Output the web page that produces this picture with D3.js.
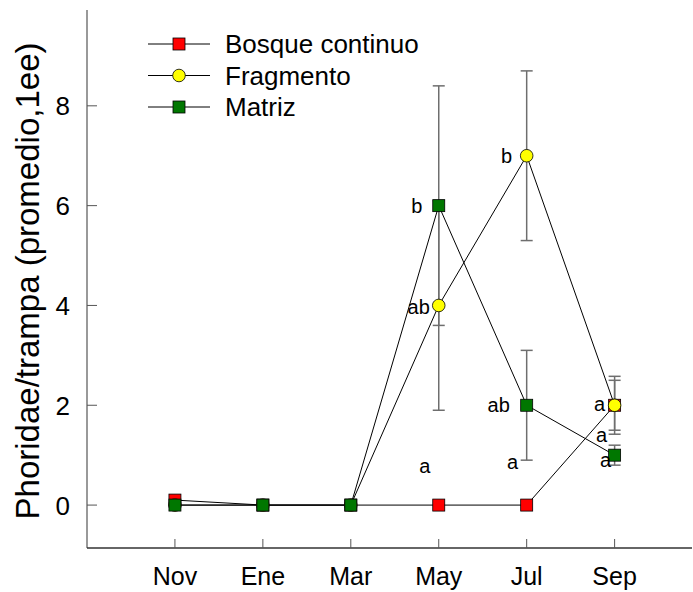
<!DOCTYPE html>
<html><head><meta charset="utf-8">
<script src="https://cdn.jsdelivr.net/npm/d3@7"></script>
<style>body{margin:0;background:#fff}svg{display:block}text{font-family:"Liberation Sans",Arial,sans-serif}</style>
</head><body><svg id="c" width="693" height="592"></svg>
<script>
const months = ["Nov","Ene","Mar","May","Jul","Sep"];
const yTicks = [0,2,4,6,8];
const bosque = [0.1,0,0,0,0,2];
const bosqueErr = [0,0,0,0,0,0.58];
const fragmento = [0,0,0,4,7,2];
const fragmentoErr = [0,0,0,2.1,1.7,0.5];
const matriz = [0,0,0,6,2,1];
const matrizErr = [0,0,0,2.4,1.1,0.2];
const letters = [
  {m:"May", v:6, t:"b", dx:-22, dy:0},
  {m:"May", v:4, t:"ab", dx:-20, dy:2},
  {m:"Jul", v:7, t:"b", dx:-20, dy:0},
  {m:"Jul", v:2, t:"ab", dx:-28, dy:0},
  {m:"May", v:0, t:"a", dx:-14, dy:-39},
  {m:"Jul", v:0, t:"a", dx:-14, dy:-43},
  {m:"Sep", v:2, t:"a", dx:-15, dy:-1},
  {m:"Sep", v:2, t:"a", dx:-13, dy:30},
  {m:"Sep", v:1, t:"a", dx:-9, dy:5}
];
const series = [
  {name:"Bosque continuo", vals:bosque, err:bosqueErr, shape:"square", fill:"#ff0000"},
  {name:"Fragmento", vals:fragmento, err:fragmentoErr, shape:"circle", fill:"#ffff00"},
  {name:"Matriz", vals:matriz, err:matrizErr, shape:"square", fill:"#007700"}
];

const svg = d3.select("#c");
const pL=87, pR=692, pT=10, pB=548;
const x = d3.scaleLinear().domain([-1,5.88]).range([pL,pR]);
const y = d3.scaleLinear().domain([-0.86,9.92]).range([pB,pT]);
const xi = m => x(months.indexOf(m));

// axes
const axisCol="#555";
svg.append("line").attr("x1",pL).attr("x2",pL).attr("y1",pT).attr("y2",pB).attr("stroke","#777").attr("stroke-width",1.5);
svg.append("line").attr("x1",pL).attr("x2",pR).attr("y1",pB).attr("y2",pB).attr("stroke","#333").attr("stroke-width",1.5);
yTicks.forEach(t=>{
  svg.append("line").attr("x1",pL).attr("x2",pL+10).attr("y1",y(t)).attr("y2",y(t)).attr("stroke",axisCol).attr("stroke-width",1);
  svg.append("text").attr("x",70).attr("y",y(t)+9.5).attr("text-anchor","end").attr("font-size",26).text(t);
});
months.forEach((m,i)=>{
  svg.append("line").attr("x1",x(i)).attr("x2",x(i)).attr("y1",pB).attr("y2",pB-9).attr("stroke",axisCol).attr("stroke-width",1);
  svg.append("text").attr("x",x(i)).attr("y",585).attr("text-anchor","middle").attr("font-size",25).text(m);
});
svg.append("text").attr("transform","translate(39,281) rotate(-90)").attr("text-anchor","middle").attr("font-size",33).text("Phoridae/trampa (promedio,1ee)");

// error bars
series.forEach(s=>{
  s.vals.forEach((v,i)=>{
    const e=s.err[i]; if(!e) return;
    const g=svg.append("g").attr("stroke","#6e6e6e").attr("stroke-width",1.5);
    g.append("line").attr("x1",x(i)).attr("x2",x(i)).attr("y1",y(v-e)).attr("y2",y(v+e));
    [v-e,v+e].forEach(c=>g.append("line").attr("x1",x(i)-6).attr("x2",x(i)+6).attr("y1",y(c)).attr("y2",y(c)));
  });
});

// lines and markers
const line = d3.line().x((d,i)=>x(i)).y(d=>y(d));
function marker(g,s,cx,cy){
  if(s.shape==="circle") g.append("circle").attr("cx",cx).attr("cy",cy).attr("r",6.3).attr("fill",s.fill).attr("stroke","#000").attr("stroke-width",0.8);
  else g.append("rect").attr("x",cx-6).attr("y",cy-6).attr("width",12).attr("height",12).attr("fill",s.fill).attr("stroke","#000").attr("stroke-width",0.8);
}
series.forEach(s=>{
  svg.append("path").attr("d",line(s.vals)).attr("fill","none").attr("stroke","#000").attr("stroke-width",1);
});
series.forEach(s=>{
  const g=svg.append("g");
  s.vals.forEach((v,i)=>marker(g,s,x(i),y(v)));
});

// letters
letters.forEach(l=>{
  svg.append("text").attr("x",xi(l.m)+l.dx).attr("y",y(l.v)+l.dy+7).attr("text-anchor","middle").attr("font-size",20).text(l.t);
});

// legend
series.forEach((s,i)=>{
  const ly=44+i*31.5;
  svg.append("line").attr("x1",148).attr("x2",210).attr("y1",ly).attr("y2",ly).attr("stroke","#000").attr("stroke-width",1);
  marker(svg.append("g"),s,179,ly);
  svg.append("text").attr("x",225).attr("y",ly+9).attr("font-size",26).text(s.name);
});
</script></body></html>
